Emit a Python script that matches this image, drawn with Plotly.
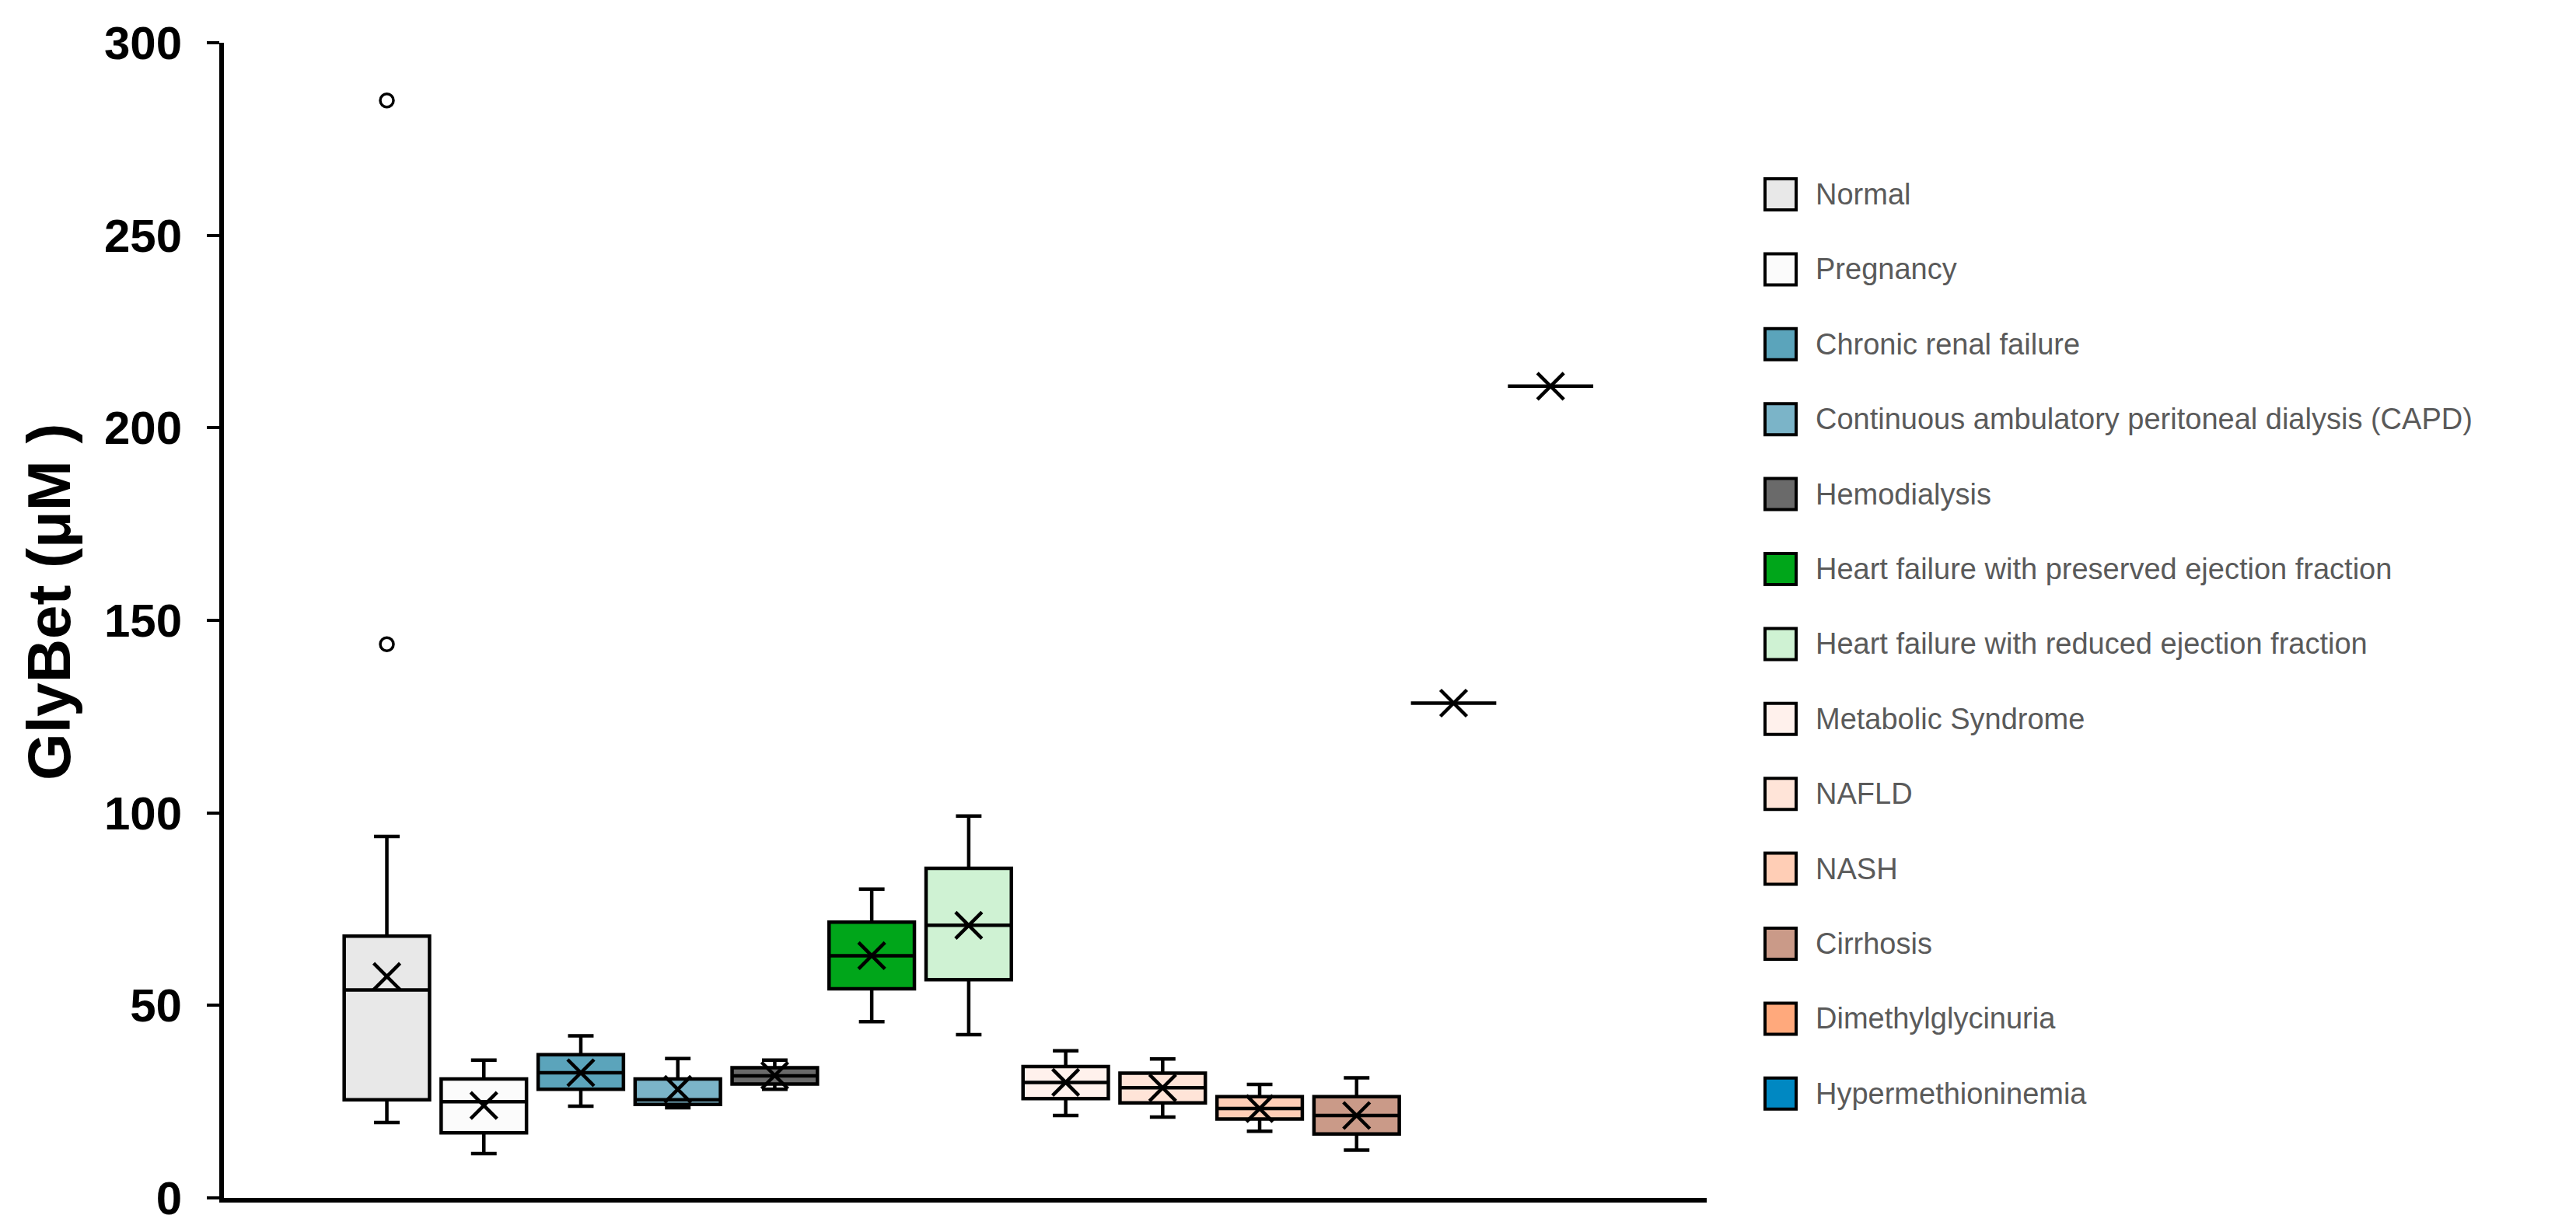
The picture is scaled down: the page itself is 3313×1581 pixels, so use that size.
import plotly.graph_objects as go

# groups, in plotting order
groups = [
    "Normal",
    "Pregnancy",
    "Chronic renal failure",
    "Continuous ambulatory peritoneal dialysis (CAPD)",
    "Hemodialysis",
    "Heart failure with preserved ejection fraction",
    "Heart failure with reduced ejection fraction",
    "Metabolic Syndrome",
    "NAFLD",
    "NASH",
    "Cirrhosis",
    "Dimethylglycinuria",
    "Hypermethioninemia",
]
colors = [
    "#E8E8E8", "#FBFBFB", "#5BA4BB", "#7BB4C8", "#6A6A6A", "#00A61A", "#CFF2D3",
    "#FFF1EC", "#FFE4D8", "#FFCEB6", "#CA9A88", "#FFA97C", "#0088C2",
]

# GlyBet (uM) box statistics
lower = [19.6, 11.5, 23.8, 23.4, 28.2, 45.8, 42.4, 21.4, 21.0, 17.3, 12.4, 128.5, 210.8]
q1 = [25.5, 16.9, 28.2, 24.3, 29.6, 54.3, 56.7, 25.8, 24.7, 20.5, 16.6, 128.5, 210.8]
median = [54.0, 25.0, 32.5, 25.5, 31.7, 62.9, 70.8, 30.0, 28.6, 23.2, 21.4, 128.5, 210.8]
q3 = [68.0, 30.9, 37.2, 30.9, 33.8, 71.6, 85.6, 34.1, 32.4, 26.3, 26.3, 128.5, 210.8]
upper = [93.9, 35.8, 42.1, 36.2, 35.8, 80.2, 99.2, 38.2, 36.1, 29.5, 31.2, 128.5, 210.8]
mean = [57.5, 24.0, 32.5, 28.2, 31.8, 62.9, 70.8, 30.0, 28.6, 23.2, 21.4, 128.5, 210.8]

outlier_group = ["Normal", "Normal"]
outlier_value = [285.0, 143.8]

W, H = 3313, 1581
PLOT_L, PLOT_R, PLOT_T, PLOT_B = 280, 2187, 47, 1533


def to_paper(px, py):
    return (px - PLOT_L) / (PLOT_R - PLOT_L), (PLOT_B - py) / (PLOT_B - PLOT_T)


fig = go.Figure()
for i, g in enumerate(groups):
    fig.add_trace(
        go.Box(
            x=[g],
            lowerfence=[lower[i]],
            q1=[q1[i]],
            median=[median[i]],
            q3=[q3[i]],
            upperfence=[upper[i]],
            name=g,
            fillcolor=colors[i],
            line=dict(color="black", width=4.5),
            width=0.88,
            whiskerwidth=0.3,
            showlegend=False,
            hoverinfo="skip",
        )
    )

fig.add_trace(
    go.Scatter(
        x=groups,
        y=mean,
        mode="markers",
        marker=dict(symbol="x-thin", size=34, line=dict(color="black", width=4.5)),
        showlegend=False,
        hoverinfo="skip",
    )
)
fig.add_trace(
    go.Scatter(
        x=outlier_group,
        y=outlier_value,
        mode="markers",
        marker=dict(symbol="circle-open", size=17, color="black", line=dict(width=3.5)),
        showlegend=False,
        hoverinfo="skip",
    )
)

# legend drawn by hand so the swatches match the original size
legend_font = dict(family="Liberation Sans Narrow, Arial Narrow, Liberation Sans", size=38, color="#5A5A5A")
for i, g in enumerate(groups):
    cy = 242 + i * 96.4
    x0, y0 = to_paper(2262, cy + 20)
    x1, y1 = to_paper(2302, cy - 20)
    fig.add_shape(
        type="rect", xref="paper", yref="paper", x0=x0, x1=x1, y0=y0, y1=y1,
        fillcolor=colors[i], line=dict(color="black", width=4),
    )
    tx, ty = to_paper(2325, cy)
    fig.add_annotation(
        text=g, xref="paper", yref="paper", x=tx, y=ty, xanchor="left", yanchor="middle",
        showarrow=False, font=legend_font,
    )

# y-axis title, sitting a little above the plot centre as in the original
tx, ty = to_paper(55, 767)
fig.add_annotation(
    text="GlyBet (μM )", xref="paper", yref="paper", x=tx, y=ty, textangle=-90,
    xanchor="center", yanchor="middle", showarrow=False,
    font=dict(family="Liberation Sans, Arial", size=78, color="black", weight="bold"),
)

fig.update_layout(
    width=W,
    height=H,
    margin=dict(l=PLOT_L, r=W - PLOT_R, t=PLOT_T, b=H - PLOT_B),
    plot_bgcolor="white",
    paper_bgcolor="white",
    boxmode="overlay",
    xaxis=dict(
        type="category",
        categoryorder="array",
        categoryarray=groups,
        range=[-1.68, 13.61],
        showticklabels=False,
        ticks="",
        showgrid=False,
        zeroline=False,
        showline=True,
        linecolor="black",
        linewidth=6,
    ),
    yaxis=dict(
        range=[0, 300],
        tickvals=[0, 50, 100, 150, 200, 250, 300],
        ticks="outside",
        ticklen=16,
        tickwidth=4,
        tickcolor="black",
        ticklabelstandoff=20,
        tickfont=dict(family="Liberation Sans, Arial", size=60, color="black", weight="bold"),
        showgrid=False,
        zeroline=False,
        showline=True,
        linecolor="black",
        linewidth=6,
    ),
)

fig.write_html("out.html")
